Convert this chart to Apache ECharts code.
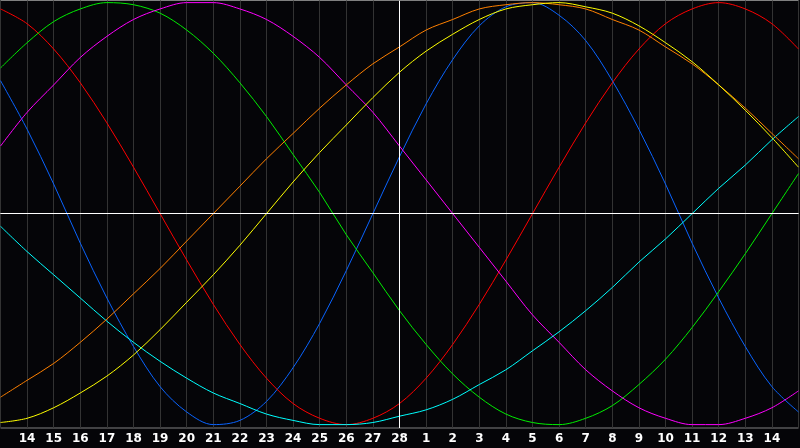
<!DOCTYPE html>
<html>
<head>
<meta charset="utf-8">
<script src="https://cdn.jsdelivr.net/npm/echarts@6/dist/echarts.min.js"></script>
<style>
html,body{margin:0;padding:0;background:#050508;}
#chart{width:800px;height:448px;}
</style>
</head>
<body>
<div id="chart"></div>
<script>
// Day labels at each vertical grid line (first and last sit on the plot edges)
const dayLabels = ['13','14','15','16','17','18','19','20','21','22','23','24','25','26','27','28',
                   '1','2','3','4','5','6','7','8','9','10','11','12','13','14','15'];

// Cycle values (-100..100) read at each day
const physical     = [63,40,14,-14,-40,-63,-82,-94,-100,-98,-89,-73,-52,-27,0,27,52,73,89,98,100,94,82,63,40,14,-14,-40,-63,-82,-94];
const emotional    = [97,90,78,62,43,22,0,-22,-43,-62,-78,-90,-97,-100,-97,-90,-78,-62,-43,-22,0,22,43,62,78,90,97,100,97,90,78];
const intellectual = [69,81,91,97,100,99,95,87,76,62,46,28,10,-10,-28,-46,-62,-76,-87,-95,-99,-100,-97,-91,-81,-69,-54,-37,-19,0,19];
const intuitive    = [32,48,61,74,84,92,97,100,100,97,92,84,74,61,48,32,16,0,-16,-32,-48,-61,-74,-84,-92,-97,-100,-100,-97,-92,-84];
const aesthetic    = [-99,-97,-92,-85,-77,-67,-55,-42,-29,-15,0,15,29,42,55,67,77,85,92,97,99,100,98,95,89,81,72,61,49,36,22];
const awareness    = [-87,-79,-71,-61,-50,-38,-26,-13,0,13,26,38,50,61,71,79,87,92,97,99,100,99,97,92,87,79,71,61,50,38,26];
const spiritual    = [-6,-18,-29,-40,-51,-61,-70,-78,-85,-90,-95,-98,-100,-100,-99,-96,-93,-88,-81,-74,-65,-56,-46,-35,-23,-12,0,12,23,35,46];

const cycles = [
  {name:'Physical', data: physical, color:'#0a64ff'},
  {name:'Emotional', data: emotional, color:'#ff0000'},
  {name:'Intellectual', data: intellectual, color:'#00ee00'},
  {name:'Intuitive', data: intuitive, color:'#ff00ff'},
  {name:'Spiritual', data: spiritual, color:'#00ffff'},
  {name:'Awareness', data: awareness, color:'#ff8000'},
  {name:'Aesthetic', data: aesthetic, color:'#ffff00'}
];

const chart = echarts.init(document.getElementById('chart'), null, {renderer:'canvas'});

const series = cycles.map(c => ({
  name: c.name,
  type: 'line',
  data: c.data.map((v, i) => [i, v]),
  smooth: 0.33,
  showSymbol: false,
  symbol: 'none',
  lineStyle: {color: c.color, width: 1},
  itemStyle: {color: c.color},
  z: 3
}));

series.push({
  type: 'line',
  data: [],
  silent: true,
  markLine: {
    silent: true,
    symbol: 'none',
    label: {show: false},
    lineStyle: {color: '#ffffff', width: 1, type: 'solid'},
    data: [{yAxis: 0}, {xAxis: dayLabels.indexOf('28')}]
  },
  z: 2
});

chart.setOption({
  animation: false,
  backgroundColor: '#050508',
  grid: {
    left: 0.5, right: 1.5, top: 0.5, bottom: 20,
    show: true, borderColor: '#808080', borderWidth: 1,
    backgroundColor: 'transparent'
  },
  xAxis: {
    type: 'value',
    min: 0, max: dayLabels.length - 1, interval: 1,
    axisLine: {show: true, lineStyle: {color: '#808080', width: 1}},
    axisTick: {show: false},
    splitLine: {show: true, lineStyle: {color: '#333333', width: 1}},
    axisLabel: {
      color: '#ffffff',
      fontWeight: 'bold',
      fontSize: 12,
      fontFamily: 'DejaVu Sans, Arial, sans-serif',
      margin: 5,
      showMinLabel: false,
      showMaxLabel: false,
      formatter: function (v) {
        if (v <= 0 || v >= dayLabels.length - 1) return '';
        return dayLabels[Math.round(v)];
      }
    }
  },
  yAxis: {
    type: 'value',
    min: -101.6, max: 101,
    show: false,
    splitLine: {show: false}
  },
  series: series
});
</script>
</body>
</html>
